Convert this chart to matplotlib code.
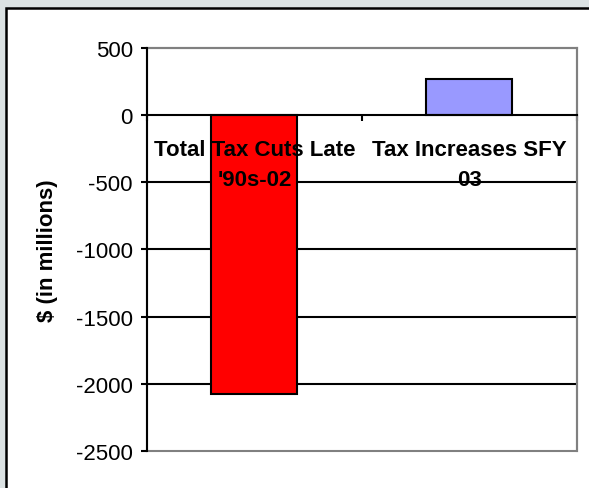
import matplotlib.pyplot as plt
from matplotlib.patches import Rectangle
from matplotlib.ticker import FuncFormatter

plt.rcParams["font.family"] = ["Liberation Sans", "DejaVu Sans"]
plt.rcParams["axes.unicode_minus"] = False

categories = ["Total Tax Cuts Late\n'90s-02", "Tax Increases SFY\n03"]
values = [-2075, 270]
colors = ["#ff0000", "#9999ff"]
y_ticks = [-2500, -2000, -1500, -1000, -500, 0, 500]

fig = plt.figure(figsize=(5.89, 4.89), dpi=100)
fig.patch.set_facecolor("#dbe2e3")

# white inner panel with black border
fig.patches.append(Rectangle((6.3 / 589, -0.05), 1.0, (489 - 9.2) / 489 + 0.05,
                             transform=fig.transFigure, facecolor="white",
                             edgecolor="black", lw=1.8, zorder=-1))

ax = fig.add_axes([0.2496, 0.0757, 0.7295, 0.8241])
ax.set_facecolor("white")

x = list(range(len(categories)))
ax.bar(x, values, width=0.4, color=colors, edgecolor="black", lw=1.5, zorder=3)

ax.set_xlim(-0.5, 1.5)
ax.set_ylim(-2500, 500)
ax.set_yticks(y_ticks)
ax.yaxis.set_major_formatter(FuncFormatter(lambda v, p: str(int(v))))
ax.tick_params(axis="y", direction="out", length=4.3, width=1.5, pad=6,
               labelsize=16, color="black")

# gridlines
for v in y_ticks[1:-1]:
    if v != 0:
        ax.axhline(v, color="black", lw=1.5, zorder=1)

# frame
for s in ["top", "right"]:
    ax.spines[s].set_color("#808080")
    ax.spines[s].set_linewidth(1.5)
ax.spines["left"].set_color("black")
ax.spines["left"].set_linewidth(1.5)
ax.spines["left"].set_zorder(5)
ax.spines["bottom"].set_position(("data", 0))
ax.spines["bottom"].set_color("black")
ax.spines["bottom"].set_linewidth(1.5)
ax.spines["bottom"].set_zorder(5)
ax.add_patch(Rectangle((0, 0), 1, 1, transform=ax.transAxes, fill=False,
                       edgecolor="#808080", lw=1.5, zorder=0.5, clip_on=False))

ax.set_xticks([-0.5, 0.5, 1.5])
ax.set_xticklabels([])
ax.tick_params(axis="x", direction="out", length=4, width=1.5, color="black")

for i, lab in enumerate(categories):
    ax.annotate(lab, xy=(i, 0), xytext=(0, -17), textcoords="offset points",
                ha="center", va="top", fontsize=16, fontweight="bold",
                zorder=6, linespacing=1.55)

ax.set_ylabel("$ (in millions)", fontsize=16, fontweight="bold")
ax.yaxis.set_label_coords(-0.208, 0.5)

fig.savefig("out.png", dpi=100)
